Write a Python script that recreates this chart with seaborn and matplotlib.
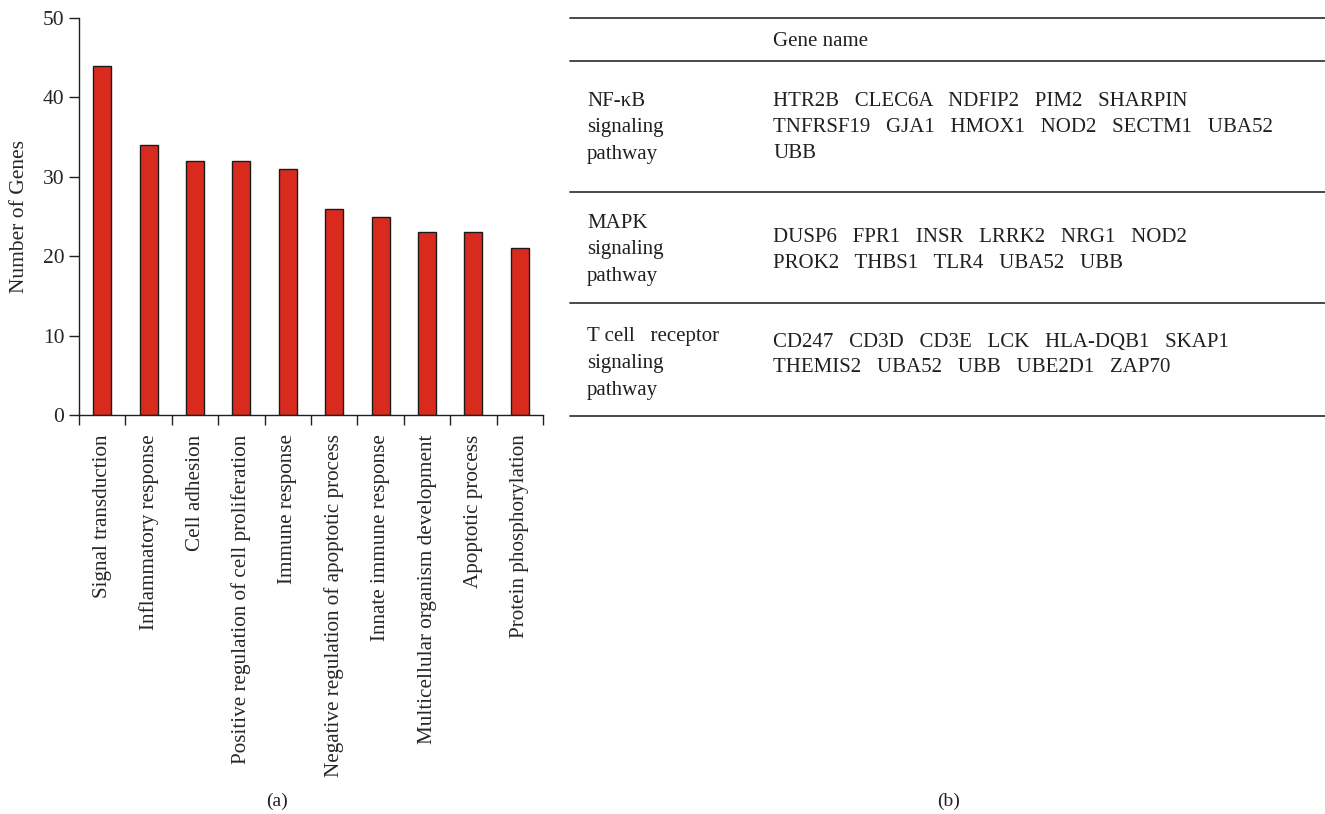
import matplotlib
matplotlib.use("Agg")
import matplotlib.pyplot as plt
import seaborn as sns
import pandas as pd
import numpy as np

# GO biological process terms (panel a)
terms = [
    "Signal transduction",
    "Inflammatory response",
    "Cell adhesion",
    "Positive regulation of cell proliferation",
    "Immune response",
    "Negative regulation of apoptotic process",
    "Innate immune response",
    "Multicellular organism development",
    "Apoptotic process",
    "Protein phosphorylation",
]
gene_counts = [44, 34, 32, 32, 31, 26, 25, 23, 23, 21]
y_ticks = [0, 10, 20, 30, 40, 50]

# pathway table (panel b)
table_header = "Gene name"
pathway_names = [
    ["NF-κB", "signaling", "pathway"],
    ["MAPK", "signaling", "pathway"],
    ["T cell   receptor", "signaling", "pathway"],
]
pathway_genes = [
    ["HTR2B", "CLEC6A", "NDFIP2", "PIM2", "SHARPIN",
     "TNFRSF19", "GJA1", "HMOX1", "NOD2", "SECTM1", "UBA52", "UBB"],
    ["DUSP6", "FPR1", "INSR", "LRRK2", "NRG1", "NOD2",
     "PROK2", "THBS1", "TLR4", "UBA52", "UBB"],
    ["CD247", "CD3D", "CD3E", "LCK", "HLA-DQB1", "SKAP1",
     "THEMIS2", "UBA52", "UBB", "UBE2D1", "ZAP70"],
]
genes_per_line = [[5, 6, 1], [6, 5], [6, 5]]

sns.set_theme(style="ticks")
plt.rcParams["font.family"] = ["Liberation Serif", "DejaVu Serif"]
plt.rcParams["text.color"] = "#231f20"

W, H = 1325, 814
fig = plt.figure(figsize=(W / 100, H / 100), dpi=100)

# ---- panel (a): bar chart ----
x0, x1, y_top, y_bot = 79, 543, 18, 415
ax = fig.add_axes([x0 / W, 1 - y_bot / H, (x1 - x0) / W, (y_bot - y_top) / H])
df = pd.DataFrame({"term": terms, "count": gene_counts})
sns.barplot(data=df, x="term", y="count", ax=ax, color="#d92b1d",
            edgecolor="#1a1a1a", linewidth=1.0, width=0.39, saturation=1)
ax.set_xlim(-0.5, len(terms) - 0.5)
ax.set_ylim(0, 50)
ax.set_yticks(y_ticks)
ax.set_xlabel("")
ax.set_ylabel("Number of Genes", fontsize=15.5, labelpad=10)
ax.tick_params(axis="y", labelsize=15.5, length=7, width=1, color="#231f20")
ax.set_xticks(range(len(terms)))
ax.set_xticklabels(terms, rotation=90, fontsize=15.2)
ax.tick_params(axis="x", which="major", length=0, pad=14)
ax.set_xticks(np.arange(len(terms) + 1) - 0.5, minor=True)
ax.tick_params(axis="x", which="minor", length=7, width=1, color="#231f20")
sns.despine(ax=ax)
for s in ["left", "bottom"]:
    ax.spines[s].set_color("#231f20")
    ax.spines[s].set_linewidth(1)

# ---- panel (b): table ----
tx = fig.add_axes([0, 0, 1, 1])
tx.set_xlim(0, W)
tx.set_ylim(H, 0)
tx.axis("off")

rules_y = [18, 61, 192, 303, 416]
for yy in rules_y:
    tx.plot([570, W], [yy, yy], color="#3a3a3a", lw=1.3)

fs = 15
tx.text(773, 42, table_header, fontsize=fs, va="center", ha="left")

name_tops = [101, 223, 337]
gene_tops = [101, 237, 342]
line_h = 26.5
for r in range(len(pathway_names)):
    for k, part in enumerate(pathway_names[r]):
        tx.text(587, name_tops[r] + k * line_h, part, fontsize=fs,
                va="center", ha="left")
    start = 0
    for k, n in enumerate(genes_per_line[r]):
        line = "   ".join(pathway_genes[r][start:start + n])
        start += n
        tx.text(773, gene_tops[r] + k * 26, line, fontsize=fs,
                va="center", ha="left")

# captions
tx.text(277, 801, "(a)", fontsize=14, ha="center", va="center")
tx.text(949, 801, "(b)", fontsize=14, ha="center", va="center")

fig.savefig("out.png", dpi=100)
